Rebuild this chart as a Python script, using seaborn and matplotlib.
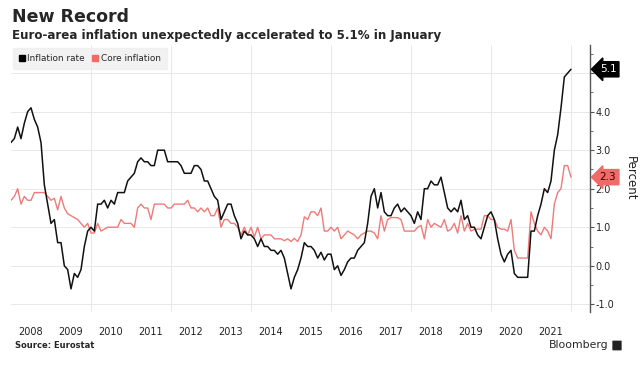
import numpy as np
import pandas as pd
import matplotlib
matplotlib.use("Agg")
import matplotlib.pyplot as plt
from matplotlib.patches import FancyBboxPatch
from matplotlib.lines import Line2D
import seaborn as sns

# Euro-area HICP, annual % change, monthly Jan 2008 - Jan 2022
inflation_rate = [
    3.2, 3.3, 3.6, 3.3, 3.7, 4.0, 4.1, 3.8, 3.6, 3.2, 2.1, 1.6,      # 2008
    1.1, 1.2, 0.6, 0.6, 0.0, -0.1, -0.6, -0.2, -0.3, -0.1, 0.5, 0.9,  # 2009
    1.0, 0.9, 1.6, 1.6, 1.7, 1.5, 1.7, 1.6, 1.9, 1.9, 1.9, 2.2,      # 2010
    2.3, 2.4, 2.7, 2.8, 2.7, 2.7, 2.6, 2.6, 3.0, 3.0, 3.0, 2.7,      # 2011
    2.7, 2.7, 2.7, 2.6, 2.4, 2.4, 2.4, 2.6, 2.6, 2.5, 2.2, 2.2,      # 2012
    2.0, 1.8, 1.7, 1.2, 1.4, 1.6, 1.6, 1.3, 1.1, 0.7, 0.9, 0.8,      # 2013
    0.8, 0.7, 0.5, 0.7, 0.5, 0.5, 0.4, 0.4, 0.3, 0.4, 0.2, -0.2,     # 2014
    -0.6, -0.3, -0.1, 0.2, 0.6, 0.5, 0.5, 0.4, 0.2, 0.35, 0.15, 0.3, # 2015
    0.3, -0.1, 0.0, -0.25, -0.1, 0.1, 0.2, 0.2, 0.4, 0.5, 0.6, 1.1,  # 2016
    1.8, 2.0, 1.5, 1.9, 1.4, 1.3, 1.3, 1.5, 1.6, 1.4, 1.5, 1.4,      # 2017
    1.3, 1.1, 1.4, 1.2, 2.0, 2.0, 2.2, 2.1, 2.1, 2.3, 1.9, 1.5,      # 2018
    1.4, 1.5, 1.4, 1.7, 1.2, 1.3, 1.0, 1.0, 0.8, 0.7, 1.0, 1.3,      # 2019
    1.4, 1.2, 0.7, 0.3, 0.1, 0.3, 0.4, -0.2, -0.3, -0.3, -0.3, -0.3, # 2020
    0.9, 0.9, 1.3, 1.6, 2.0, 1.9, 2.2, 3.0, 3.4, 4.1, 4.9, 5.0,      # 2021
    5.1,                                                             # 2022
]
core_inflation = [
    1.7, 1.8, 2.0, 1.6, 1.8, 1.7, 1.7, 1.9, 1.9, 1.9, 1.9, 1.8,      # 2008
    1.7, 1.75, 1.45, 1.8, 1.5, 1.35, 1.3, 1.25, 1.2, 1.1, 1.0, 1.1,  # 2009
    0.85, 0.85, 1.1, 0.9, 0.95, 1.0, 1.0, 1.0, 1.0, 1.2, 1.1, 1.1,   # 2010
    1.1, 1.0, 1.5, 1.6, 1.5, 1.5, 1.2, 1.6, 1.6, 1.6, 1.6, 1.5,      # 2011
    1.5, 1.6, 1.6, 1.6, 1.6, 1.7, 1.5, 1.5, 1.4, 1.5, 1.4, 1.5,      # 2012
    1.3, 1.3, 1.5, 1.0, 1.2, 1.2, 1.1, 1.1, 1.0, 0.8, 1.0, 0.8,      # 2013
    1.0, 0.75, 1.0, 0.7, 0.8, 0.8, 0.8, 0.7, 0.7, 0.7, 0.65, 0.7,    # 2014
    0.63, 0.71, 0.63, 0.8, 1.27, 1.2, 1.4, 1.4, 1.3, 1.5, 0.9, 0.9,  # 2015
    1.0, 0.9, 1.0, 0.7, 0.8, 0.9, 0.85, 0.8, 0.7, 0.8, 0.85, 0.9,    # 2016
    0.9, 0.85, 0.7, 1.3, 0.9, 1.2, 1.25, 1.25, 1.25, 1.2, 0.9, 0.9,  # 2017
    0.9, 0.9, 1.0, 1.05, 0.7, 1.2, 1.0, 1.1, 1.05, 1.0, 1.2, 0.9,    # 2018
    0.95, 1.1, 0.85, 1.3, 0.9, 1.1, 0.9, 0.95, 0.95, 0.95, 1.3, 1.3, # 2019
    1.2, 1.2, 1.0, 0.95, 0.95, 0.9, 1.2, 0.4, 0.2, 0.2, 0.2, 0.2,    # 2020
    1.4, 1.1, 0.9, 0.8, 1.0, 0.9, 0.7, 1.6, 1.9, 2.0, 2.6, 2.6,      # 2021
    2.3,                                                             # 2022
]
year_labels = [str(y) for y in range(2008, 2022)]
y_ticks = [-1.0, 0.0, 1.0, 2.0, 3.0, 4.0, 5.0]

BLACK = "#111111"
CORE = "#ee7b79"
CORE_BOX = "#f06a68"

dates = pd.date_range("2008-01-01", "2022-01-01", freq="MS")
df = pd.DataFrame({
    "t": dates.year + (dates.month - 1) / 12.0,
    "Inflation rate": inflation_rate,
    "Core inflation": core_inflation,
})

sns.set_theme(style="white")
plt.rcParams["font.family"] = ["DejaVu Sans"]

fig = plt.figure(figsize=(6.4, 3.68), dpi=100)
ax = fig.add_axes([11 / 640, 1 - 312 / 368, (590 - 11) / 640, (312 - 45) / 368])

sns.lineplot(data=df, x="t", y="Core inflation", color=CORE, lw=1.0, ax=ax)
sns.lineplot(data=df, x="t", y="Inflation rate", color=BLACK, lw=1.1, ax=ax)

ax.set_xlim(2008.0, 2008 + (590 - 11) / 40.0)
ax.set_ylim(-1.2, 5.73)

# axes styling
for s in ["left", "top", "bottom"]:
    ax.spines[s].set_visible(False)
ax.spines["right"].set_color("#555555")
ax.spines["right"].set_linewidth(1.0)
ax.yaxis.tick_right()
ax.yaxis.set_label_position("right")
ax.set_yticks(y_ticks)
ax.set_yticks(np.arange(-1.0, 5.6, 0.5), minor=True)
# top tick label is hidden behind the last-value tag in the original
ax.set_yticklabels([f"{v:.1f}" if v < 5 else "" for v in y_ticks], fontsize=7, color="#222222")
ax.tick_params(axis="y", which="major", length=3, width=0.8, color="#555555", pad=1)
ax.tick_params(axis="y", which="minor", length=2, width=0.6, color="#555555")

ax.set_xticks([int(y) + 0.5 for y in year_labels])
ax.set_xticklabels(year_labels, fontsize=7, color="#222222")
ax.set_xticks(range(2010, 2023, 2), minor=True)
ax.tick_params(axis="x", which="both", length=0, pad=11)

ax.yaxis.grid(True, which="major", color="#e8e8e8", lw=0.7)
ax.xaxis.grid(True, which="minor", color="#e8e8e8", lw=0.7)
ax.set_axisbelow(True)
ax.set_xlabel("")
ax.set_ylabel("Percent", fontsize=8.5, rotation=270, labelpad=16, color="#222222")

# legend
handles = [
    Line2D([], [], ls="", marker="s", markersize=5, color="black"),
    Line2D([], [], ls="", marker="s", markersize=5, color=CORE_BOX),
]
leg = ax.legend(handles, ["Inflation rate", "Core inflation"], loc="upper left",
                bbox_to_anchor=(0.0, 0.995), ncol=2, fontsize=6.4, frameon=True,
                handlelength=0.7, handletextpad=0.3, columnspacing=0.8,
                borderpad=0.65, borderaxespad=0.2, fancybox=False)
leg.get_frame().set_facecolor("#efefef")
leg.get_frame().set_edgecolor("#efefef")

# last value labels
ax.annotate(f"{inflation_rate[-1]:.1f}", xy=(1.0, inflation_rate[-1]),
            xycoords=("axes fraction", "data"), xytext=(7, 0), textcoords="offset points",
            va="center", ha="left", fontsize=7.5, color="white", zorder=10,
            bbox=dict(boxstyle="larrow,pad=0.25", fc="black", ec="black"))
ax.annotate(f"{core_inflation[-1]:.1f}", xy=(1.0, core_inflation[-1]),
            xycoords=("axes fraction", "data"), xytext=(7, 0), textcoords="offset points",
            va="center", ha="left", fontsize=7.5, color="#3a0000", zorder=10,
            bbox=dict(boxstyle="larrow,pad=0.25", fc=CORE_BOX, ec=CORE_BOX))

# titles and footer
fig.text(12 / 640, 1 - 17 / 368, "New Record", fontsize=12.5, fontweight="bold", va="center")
fig.text(12 / 640, 1 - 35 / 368, "Euro-area inflation unexpectedly accelerated to 5.1% in January",
         fontsize=8.6, fontweight="bold", va="center")
fig.text(15 / 640, 1 - 346 / 368, "Source: Eurostat", fontsize=6, fontweight="bold", va="center")
fig.text(609 / 640, 1 - 345 / 368, "Bloomberg", fontsize=7.8, fontweight="medium", va="center", ha="right")
fig.add_artist(FancyBboxPatch((613 / 640, 1 - 350 / 368), 8 / 640, 9 / 368,
                              boxstyle="round,pad=0.001", fc="#222222", ec="none",
                              transform=fig.transFigure))

fig.savefig("out.png", dpi=100)
